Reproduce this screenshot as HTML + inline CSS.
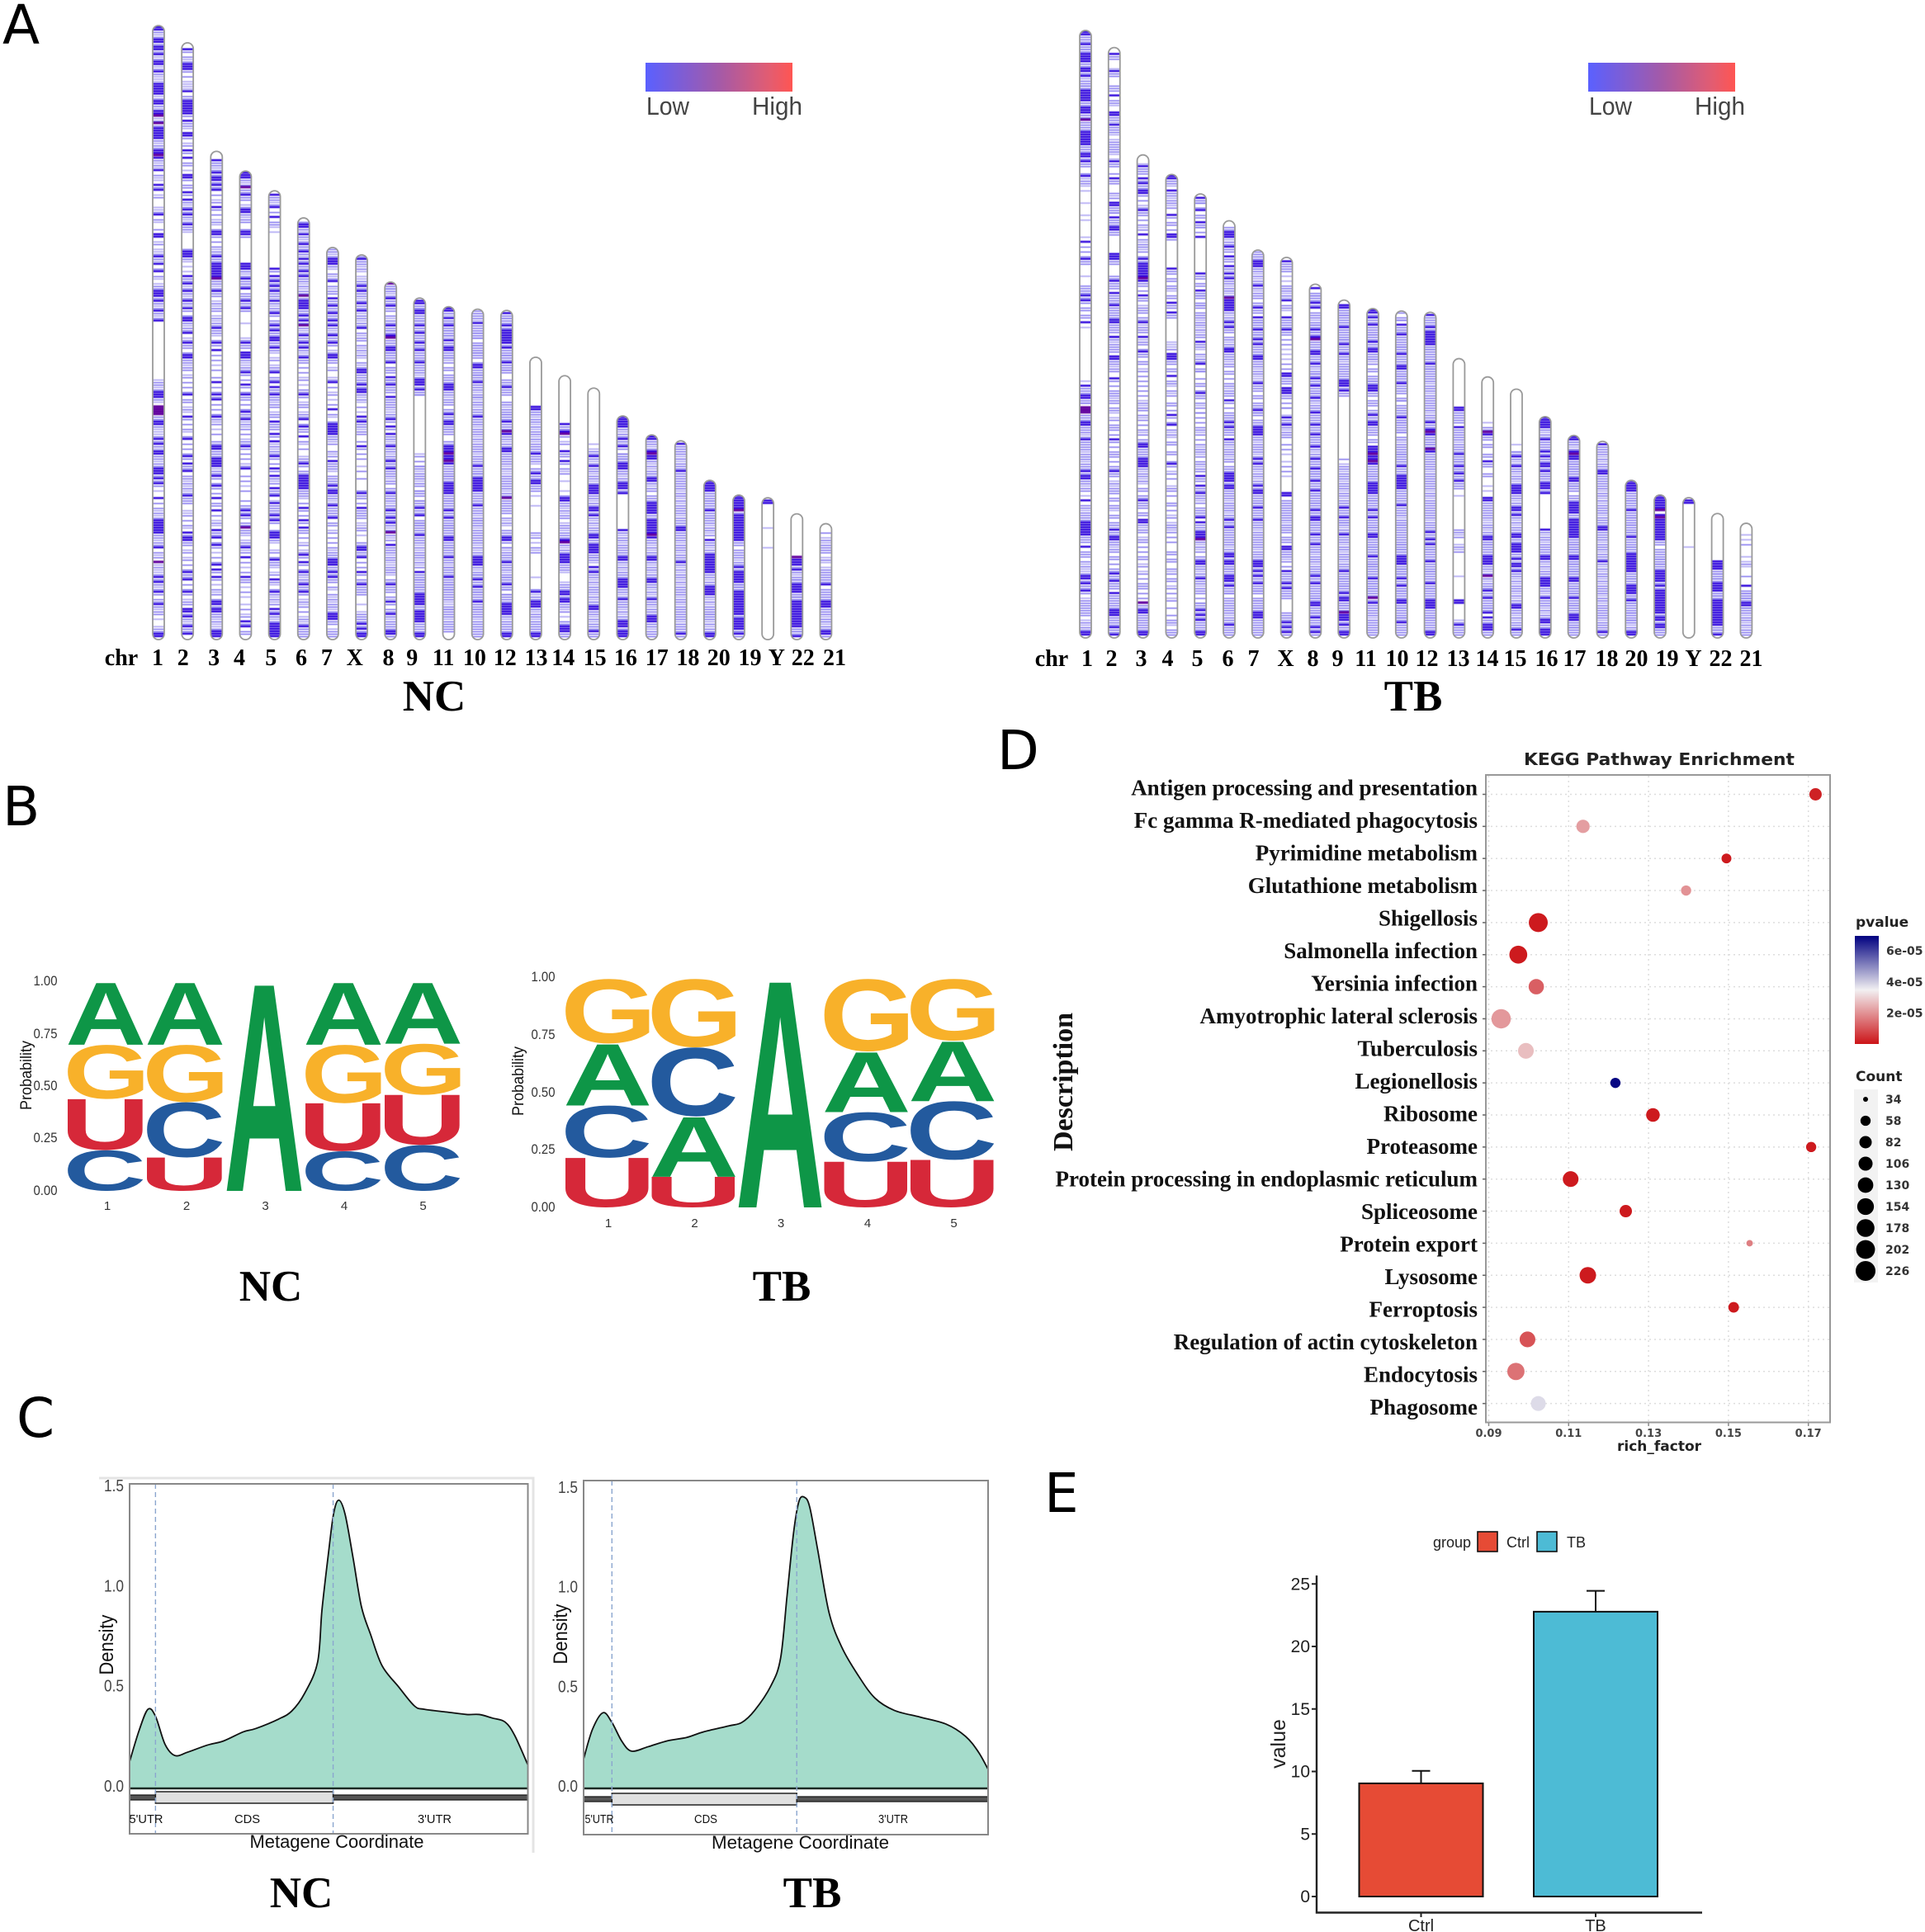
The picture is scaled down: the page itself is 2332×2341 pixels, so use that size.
<!DOCTYPE html>
<html>
<head>
<meta charset="utf-8">
<title>Figure panels A-E</title>
<style>
html,body{margin:0;padding:0;background:#fff;width:2332px;height:2341px;overflow:hidden}
svg{display:block}
text{font-family:"Liberation Sans",sans-serif}
.serif{font-family:"Liberation Serif",serif;font-weight:bold}
.dj{font-family:"DejaVu Sans",sans-serif;font-weight:bold}
.letter{font-family:"DejaVu Sans","Liberation Sans",sans-serif;font-size:66px;fill:#000}
</style>
</head>
<body>
<svg id="fig" xmlns="http://www.w3.org/2000/svg" width="2332" height="2341" viewBox="0 0 2332 2341">
<defs>
<linearGradient id="lowHigh" x1="0" x2="1" y1="0" y2="0">
<stop offset="0" stop-color="#5a60ff"/><stop offset="0.5" stop-color="#a45aa8"/><stop offset="0.85" stop-color="#e45c70"/><stop offset="1" stop-color="#ff5552"/>
</linearGradient>
<linearGradient id="pBar" x1="0" x2="0" y1="1" y2="0">
<stop offset="0" stop-color="#cc1418"/><stop offset="0.5" stop-color="#f2f0f2"/><stop offset="1" stop-color="#000080"/>
</linearGradient>
<filter id="soft" x="-5%" y="-1%" width="110%" height="102%"><feGaussianBlur stdDeviation="0.45"/></filter>
</defs>
<rect width="2332" height="2341" fill="#fff"/>

<text class="letter" x="3" y="53">A</text>
<text class="letter" x="3" y="1000">B</text>
<text class="letter" x="20" y="1741">C</text>
<text class="letter" x="1208" y="932">D</text>
<text class="letter" x="1265" y="1832">E</text>

<g id="ideoNC"></g>
<g id="ideoTB"></g>

<g>
<rect x="782" y="76" width="178" height="35" fill="url(#lowHigh)"/>
<text x="783" y="139" font-size="31" textLength="52" lengthAdjust="spacingAndGlyphs" fill="#444">Low</text>
<text x="911" y="139" font-size="31" textLength="61" lengthAdjust="spacingAndGlyphs" fill="#444">High</text>
</g>
<g>
<rect x="1924" y="76" width="178" height="35" fill="url(#lowHigh)"/>
<text x="1925" y="139" font-size="31" textLength="52" lengthAdjust="spacingAndGlyphs" fill="#444">Low</text>
<text x="2053" y="139" font-size="31" textLength="61" lengthAdjust="spacingAndGlyphs" fill="#444">High</text>
</g>
<text class="serif" x="526" y="861" font-size="53" text-anchor="middle">NC</text>
<text class="serif" x="1712" y="861" font-size="53" text-anchor="middle">TB</text>

<g id="logoNC"></g>
<g id="logoTB"></g>
<text class="serif" x="328" y="1576" font-size="53" text-anchor="middle">NC</text>
<text class="serif" x="947" y="1576" font-size="53" text-anchor="middle">TB</text>

<path d="M120 1791H646V2245" fill="none" stroke="#e4e4e4" stroke-width="3"/>
<g id="metaNC"></g>
<g id="metaTB"></g>
<text class="serif" x="365" y="2311" font-size="53" text-anchor="middle">NC</text>
<text class="serif" x="984" y="2311" font-size="53" text-anchor="middle">TB</text>

<g id="kegg"></g>
<g id="bars"></g>
</svg>

<script>
const SVGNS = 'http://www.w3.org/2000/svg';

/* ---------- Panel A data: band positions are Mb from the chromosome's lower end ---------- */
const chrNames = ['1','2','3','4','5','6','7','X','8','9','11','10','12','13','14','15','16','17','18','20','19','Y','22','21'];
const chrLabels = ['1','2','3','4','5','6','7','X','8','9','11','10','12','13','14','15','16','17','18','20','19','Y','22','21'];
const chrLengths = [249,242,198,190,182,171,159,156,145,138.5,135,134,133.5,114.5,107,102,90.7,83,80.6,64.6,58.6,57.5,51,47];

const ncStrong = [
[248,247,243,242,240,239,237,234,233,230,225,224,223,222,221,218,217,214,213,207,206,205,204,203,198,197,195,190,184,182,172,164,163,155,152,149,141,140,139,137,133,129,100,99,98,88,87,81,79,76,75,69,68,67,65,63,57,48,47,46,45,44,43,37,25,23,19,14,2,1],
[239,233,232,231,222,218,217,216,215,214,213,210,205,204,198,195,188,187,181,178,174,172,168,157,156,155,147,144,141,137,134,130,129,124,120,115,114,99,90,81,74,71,68,58,43,41,40,27,24,19,12,11,9,5,2],
[194,189,187,186,184,182,175,165,164,155,152,151,150,149,148,147,146,141,126,120,117,104,99,97,90,78,77,73,72,71,70,66,62,57,52,44,41,38,30,28,25,15,14,12,11,3,2,1],
[189,188,187,180,174,173,165,164,152,151,150,146,142,137,134,120,116,115,114,108,103,99,92,89,78,69,52,50,37,33,25,7,5],
[180,175,171,150,147,145,143,141,137,132,127,121,125,122,118,108,104,102,99,88,83,80,74,69,66,61,58,55,50,48,43,42,41,32,24,19,12,10,6,5,4,3,2,1],
[168,167,164,160,157,154,152,149,147,137,136,135,134,131,129,123,120,118,114,99,89,86,82,71,66,65,64,63,62,61,53,48,45,34,31,27,22,19,5],
[160,159,154,153,152,145,138,135,132,129,127,123,120,123,115,114,104,93,87,86,85,84,83,72,62,60,59,54,49,32,31,30,27,25,10,9,8],
[154,143,141,136,133,126,109,108,103,101,100,90,88,78,59,53,37,36,33,27,22,6,4,2,1],
[144,138,135,127,123,122,118,117,112,106,103,98,89,86,83,78,72,69,59,52,49,47,38,22,15,10,3,2],
[137,136,133,132,127,124,120,117,112,105,104,103,101,53,50,42,27,18,17,16,15,14,11,10,9,8,7,2,1],
[135,134,133,130,127,121,118,117,103,102,101,91,88,87,78,77,76,75,74,73,72,71,63,62,61,60,59,52,49,41,40,33,25],
[128,111,110,104,90,70,65,64,63,62,61,60,54,33,32,31,30,24,21,15],
[132,127,121,120,125,124,123,122,118,112,102,88,84,83,77,76,41,40,31,22,14,13,12,11,10,2,1],
[94,93,75,67,64,63,19,15,14,13,2,1],
[87,84,83,76,72,57,56,40,34,33,32,31,19,18,16,15,5,4,3],
[74,70,62,61,60,59,53,52,50,42,41,38,37,36,35,29,27,13,12,3],
[90,89,88,87,86,81,78,71,70,69,63,62,61,59,44,33,32,24,23,22,21,16,7,6,5,3,2,1],
[83,82,81,76,75,74,73,65,64,55,54,53,52,51,48,47,46,45,44,43,42,41,33,32,24,23,16,9,8,7],
[79,68,45,44,31,2],
[64,63,62,61,60,52,40,34,33,32,31,30,29,28,27,21,20,19,18,2,1],
[59,58,57,56,55,54,53,52,50,49,48,47,46,45,44,43,42,41,40,29,27,26,25,24,23,19,18,17,16,15,14,13,12,11,10,8,7,6,5,4,2],
[56,55],
[32,31,30,28,22,21,20,19,15,14,13,12,11,10,9,8,7,6,5,1],
[22,15,14,13,3,2]
];
const ncMid = [
[246,244,241,238,235,231,229,219,216,210,208,202,200,199,194,192,188,183,179,173,170,166,160,156,154,150,147,143,142,138,136,134,132,130,104,103,101,97,90,89,86,82,80,78,74,73,71,70,66,64,62,55,53,51,49,42,41,39,38,35,33,29,26,24,22,20,18,16,15,13,11,10,4,3],
[238,236,234,230,228,220,219,212,209,208,203,200,197,193,192,186,184,183,180,177,175,173,171,169,167,166,158,154,146,145,142,140,138,136,133,131,128,126,125,121,119,118,116,113,112,110,109,106,104,102,100,97,96,93,89,87,85,82,79,77,75,73,70,69,66,65,63,61,59,57,56,55,50,48,46,42,39,38,35,32,30,28,26,25,22,20,18,15,14,10,8,6,4,3],
[193,192,190,188,185,183,180,177,174,172,169,166,163,161,159,157,156,154,153,145,144,142,140,139,136,134,133,130,128,127,125,124,121,119,115,113,109,106,102,100,98,95,93,91,89,87,83,80,79,76,75,74,68,67,65,63,61,59,55,54,50,47,43,42,39,37,33,31,27,24,20,18,16,13,10,9,7,4],
[186,184,182,181,179,178,175,172,170,169,166,163,149,147,145,144,143,140,139,138,136,135,133,121,119,118,113,110,109,107,105,102,100,98,97,95,93,91,90,87,85,83,80,79,77,75,73,70,66,64,60,56,54,53,51,49,47,46,44,43,39,38,35,31,27,24,23,19,12,9,6,3,2],
[179,178,176,173,169,168,149,146,144,142,140,139,136,134,133,131,129,128,126,124,123,120,119,117,113,110,109,106,105,101,100,98,97,95,94,91,90,87,86,85,82,78,76,75,73,71,68,65,63,60,59,54,53,52,51,49,47,44,40,35,33,31,30,26,23,20,18,16,14,11,9,7],
[169,166,163,161,159,158,156,153,151,150,148,146,145,143,141,140,138,133,132,130,128,126,124,122,121,119,117,115,113,112,110,108,105,101,100,98,95,94,91,90,87,85,84,80,77,73,72,70,68,67,60,59,58,55,52,50,47,44,43,41,38,35,33,30,28,26,24,23,21,20,18,15,13,11,8,6,4,3,2,1],
[158,157,155,151,148,146,143,141,140,137,136,134,133,131,130,128,126,124,122,121,119,116,113,112,109,105,102,99,95,91,88,82,81,79,76,74,71,70,69,66,65,64,63,61,58,57,55,53,52,51,50,47,46,43,41,39,37,35,34,33,29,28,26,24,23,21,18,16,14,13,11,7,6,3,2,1],
[155,153,152,150,145,144,142,140,139,137,135,134,131,130,128,127,124,122,121,119,117,115,112,110,107,106,105,104,102,99,97,94,89,87,86,84,83,80,77,75,73,68,65,60,58,57,55,52,51,50,49,45,44,39,38,35,34,31,29,26,24,23,21,20,19,18,10,9,8,7,5,3],
[143,142,141,139,137,136,134,133,131,129,128,126,125,124,121,120,119,116,115,114,113,110,109,108,105,104,102,101,100,97,96,95,94,91,90,88,85,82,81,79,77,76,74,73,71,70,68,67,66,64,63,61,60,58,57,56,54,53,51,50,48,46,44,42,40,37,36,35,33,32,29,28,27,24,23,21,20,19,17,14,12,11,9,7,6,5,4,1],
[135,134,131,130,129,128,126,125,123,122,121,119,118,116,115,114,113,111,110,109,108,106,102,100,99,74,72,70,69,67,66,65,63,62,60,59,58,56,55,54,52,51,48,47,46,45,44,43,41,40,39,37,35,34,33,31,29,26,25,24,23,22,21,20,19,13,12,6,5,4,3],
[132,129,128,126,125,124,123,120,119,116,115,114,112,110,109,107,106,105,104,100,99,97,96,95,93,92,90,89,86,85,84,83,80,79,70,69,68,67,66,65,64,58,57,56,55,54,53,51,50,48,47,46,45,44,43,42,39,38,37,36,35,34,32,31,29,28,27,26,24,23,22,21,20,19,18,17,16,13,12,11,10,9,7,6,5,4,3],
[133,132,131,130,127,126,125,124,123,122,120,119,118,117,116,115,114,112,109,108,107,106,105,103,102,101,99,98,96,95,93,92,91,89,88,87,85,84,83,81,79,78,77,76,74,73,72,71,69,68,67,66,59,58,57,56,55,53,52,51,49,48,47,46,44,43,42,41,40,39,37,35,34,29,27,26,25,23,22,20,19,18,17,16,14,13,12,11,10,9,7,6,5,4,3,2,1],
[131,130,129,128,126,125,120,119,117,116,115,114,113,111,110,109,108,105,104,103,101,100,99,96,95,93,92,91,90,89,87,86,85,82,81,79,78,75,74,73,72,71,69,66,65,64,63,62,61,59,58,56,55,54,53,52,51,49,47,44,43,42,39,37,35,34,33,32,30,29,28,26,25,24,23,21,20,18,17,16,15,9,7,6,5,4,3],
[92,91,89,88,86,84,83,81,79,78,77,76,74,73,72,69,68,66,65,62,61,60,43,41,37,35,20,17,16,12,10,9,7,6,5,4,3],
[86,85,82,79,75,74,71,69,67,58,55,54,52,50,49,46,45,43,42,41,39,38,36,35,30,29,28,22,21,20,17,14,13,11,7,6,2,1],
[76,75,73,71,69,68,66,65,63,58,57,55,54,51,49,47,45,44,43,40,39,34,33,32,28,26,25,23,21,20,19,17,15,14,11,10,8,6,5,4,2,1],
[85,83,82,80,79,77,75,74,73,72,68,67,65,64,60,43,41,40,38,37,36,35,34,31,29,27,26,25,20,19,17,15,14,13,11,9,8,4],
[80,79,77,72,70,68,67,66,63,61,60,58,57,56,50,49,40,39,37,35,34,31,29,28,26,25,22,21,19,17,15,14,12,11,10,6,5,3,2,1],
[78,77,76,75,73,71,70,69,67,66,65,64,63,62,61,59,58,56,54,53,52,51,49,48,47,46,43,42,41,40,38,37,36,34,33,32,30,28,26,25,23,21,20,19,18,16,15,13,12,11,10,9,8,6,5,4,3,1],
[59,58,57,56,55,54,53,51,50,49,48,47,45,44,42,39,38,36,35,26,25,23,22,17,15,13,12,11,10,9,8,6,4,3],
[51,39,38,36,35,34,33,31,30,28,22,21,20,9,3,1],
[],
[29,27,25,24,23,18,17,16,4,3,2],
[43,40,38,37,36,35,32,28,27,26,25,24,23,20,19,18,17,16,12,11,10,8,7,5,4,1]
];
const ncLight = [
[245,236,232,228,227,226,220,215,211,201,193,191,187,186,180,175,174,169,161,158,157,153,146,144,135,131,105,102,96,85,84,83,77,72,60,52,50,40,34,31,30,28,27,21,12,8,5],
[235,226,225,224,223,207,201,198,190,176,170,165,153,151,149,143,139,135,127,122,111,107,94,92,84,64,62,60,52,51,45,36,33,16,7],
[191,178,170,168,158,155,143,137,135,131,129,123,111,88,85,69,48,46,35,22,19,8,6,5],
[185,176,171,148,128,122,112,111,88,86,81,71,62,42,40,36,29,21,17,14,10],
[177,167,165,138,135,122,116,114,111,96,92,79,77,64,56,39,36,29,27,22,17,15,8],
[165,162,155,144,142,139,127,125,116,106,103,96,92,79,74,57,39,36,25,16,14,9,7],
[156,150,147,142,125,117,110,106,100,97,90,80,75,68,56,44,36,20,17,15,12,4],
[151,149,147,146,138,132,129,123,118,116,114,111,98,96,92,85,70,47,46,42,14,11],
[142,140,130,125,116,110,105,93,92,80,75,65,55,45,41,34,31,30,26,16,8],
[134,129,118,113,107,99,75,70,68,64,60,56,47,46,38,36,32,30,24,21],
[131,128,123,125,122,114,113,98,85,66,56,46,45,37,30,29,22,20,15,14,12,8],
[129,124,122,119,116,107,100,97,98,94,86,82,80,75,67,50,48,45,38,36,28,26,19,12,8],
[130,124,115,109,94,91,80,70,68,67,60,57,48,46,37,36,27,25,20,18,8],
[90,87,85,82,80,71,58,54,42,39,36,25,18,11,8],
[80,68,64,60,53,51,47,44,37,27,23,12,9],
[79,77,72,67,64,56,48,46,33,31,24,22,18,16,9,7],
[84,75,73,66,42,39,30,28,18,12,10],
[78,71,69,62,38,36,30,27,20,18,13,4],
[74,72,60,57,55,50,39,35,29,27,24,22,17,14,7],
[56,49,46,43,37,24,16,14,10,7,5],
[32,30,22,21,9,3],
[45,37],
[26,24,17,3],
[41,39,33,31,29,9,6]
];
const ncHot = [[212,209,196,94,93,92,91,31],[],[146],[183,45],[],[139,127],[],[],[144,122,43],[],[75,72],[],[84,57],[],[83,39],[],[],[75,42],[],[],[52],[],[33],[]];

const tbStrong = [
[249,248,247,243,239,238,237,236,233,232,230,224,223,222,221,220,217,216,215,207,206,205,204,203,202,198,197,195,189,162,155,140,138,129,103,99,98,88,87,81,68,66,65,56,47,46,45,44,43,42,37,25,24,22,19,2,1],
[239,232,222,215,214,210,195,188,178,177,172,168,167,157,156,155,146,141,136,130,129,123,123,115,114,106,81,68,44,41,40,26,23,18,11,10,9,4,1],
[193,188,186,183,182,175,165,155,153,152,151,150,149,148,147,146,140,129,123,117,79,78,73,72,71,70,56,48,47,11,10,2,1],
[190,189,188,183,173,165,164,151,137,133,116,115,114,107,91,87,71],
[180,175,170,164,149,142,121,112,100,66,62,59,49,47,43,42,41,31,30,24,11,9,7,2,1],
[166,165,164,160,156,152,149,147,138,137,136,135,134,129,127,118,117,118,97,88,86,81,67,66,65,64,62,61,48,45,34,33,31,30,25,24,23,21,5],
[160,159,154,153,152,144,135,131,126,122,120,115,114,104,93,86,85,84,83,73,71,62,60,59,53,48,31,30,29,27,25,22,10,9,8],
[154,138,131,126,108,107,102,101,100,90,87,59,58,37,36,27,22,20,6,4,2],
[143,137,135,126,123,122,117,116,112,106,103,98,92,87,83,78,73,69,64,60,52,49,48,42,38,25,22,14,13,8,4,2],
[136,135,127,120,116,105,104,103,101,53,49,42,27,18,16,15,9,8,7,5,2,1],
[135,134,133,131,128,121,118,117,103,102,101,91,88,87,78,77,76,75,74,73,72,71,63,62,61,60,59,52,49,42,41,33,24,14],
[128,124,116,111,110,104,90,70,66,65,64,63,62,61,54,33,32,31,30,24,21,15,14,6],
[132,127,121,125,124,123,122,120,112,88,85,84,83,77,76,43,40,38,31,22,15,14,13,12,2,1],
[94,93,86,75,70,67,64,15,14,5],
[84,83,72,57,56,41,40,33,32,31,30,19,16,10,8,5,4,3],
[74,70,62,61,60,59,53,52,50,42,41,38,37,36,35,32,30,29,27,13,12,3],
[90,89,88,87,86,81,76,74,71,70,68,63,62,61,59,44,33,32,24,23,22,21,16,7,6,3,2,1],
[83,82,81,76,75,74,73,65,64,55,54,53,52,51,48,47,46,45,44,43,42,41,33,32,24,23,16,9,8,7],
[79,68,67,45,44,31,2],
[64,63,62,61,60,52,41,34,33,32,31,30,29,28,27,21,20,19,18,15,2,1],
[59,58,57,56,55,54,53,52,50,49,48,47,46,45,44,43,42,41,40,27,26,25,24,23,21,19,18,17,16,15,14,13,12,11,10,8,7,5,4],
[56,55],
[31,30,29,28,22,21,20,19,15,14,13,12,11,10,9,8,7,6,5,1],
[21,14,13]
];
const tbMid = [
[246,245,244,242,241,240,235,234,231,228,227,226,225,219,218,214,213,212,211,210,209,208,201,200,199,196,194,193,190,187,186,160,158,156,154,153,144,143,142,141,139,137,135,134,132,131,102,101,100,97,96,91,90,89,86,85,84,82,80,79,78,77,75,74,73,71,70,69,67,64,63,61,60,54,53,51,50,49,48,41,40,39,35,34,33,31,29,26,23,21,20,18,15,14,13,12,11,10,9,6,4,3],
[238,237,231,230,226,225,224,220,219,213,212,209,208,207,203,202,201,200,199,194,193,190,187,186,182,180,176,175,174,171,170,169,166,165,154,153,148,147,145,144,143,140,139,138,137,135,134,133,132,131,128,127,126,125,122,120,119,118,117,113,112,110,109,105,103,101,100,99,97,96,94,93,89,87,86,85,83,80,78,76,75,74,72,70,69,67,66,63,61,60,59,57,56,54,53,50,49,47,46,43,42,39,38,36,35,33,32,30,28,27,25,24,22,21,20,17,16,15,14,13,12,8,7,6,5,3,2],
[192,191,190,187,185,184,181,179,176,174,173,171,169,167,163,161,160,158,156,154,145,144,142,139,138,135,134,133,131,130,127,126,125,121,120,118,116,115,113,112,109,107,105,103,101,99,96,94,93,91,89,87,85,83,81,80,77,76,75,74,69,67,66,64,61,60,58,57,55,54,53,51,50,46,44,43,40,39,37,35,33,32,29,26,24,22,21,20,18,16,14,13,12,9,8,7,6,5,4,3],
[187,186,182,181,179,178,176,172,170,169,167,163,150,149,147,146,144,143,140,139,136,135,132,131,118,113,112,110,109,105,104,101,99,96,95,93,90,88,85,83,80,79,76,75,72,70,67,65,61,60,58,55,54,52,49,46,45,43,41,39,35,34,32,31,28,26,24,23,20,18,15,12,9,7,6,3,2,1],
[179,178,176,173,172,169,168,166,148,147,145,144,141,140,139,137,136,135,133,132,131,129,128,126,124,123,120,119,116,114,113,110,109,106,104,103,101,99,98,96,94,92,90,88,86,85,83,81,79,77,76,74,72,71,69,68,65,64,61,60,58,57,55,53,52,51,50,46,45,44,40,39,37,35,33,32,29,28,26,25,23,22,20,19,18,16,14,13,12,10,8,6,5,4,3],
[168,167,162,161,159,158,155,154,151,148,146,145,143,142,140,139,133,131,130,128,126,125,123,122,120,119,116,115,114,112,111,109,108,106,104,103,101,100,99,96,94,92,91,90,89,87,85,84,83,80,79,77,76,75,73,72,70,69,68,63,60,59,58,57,55,54,53,52,50,49,47,46,44,43,42,41,40,39,38,36,35,32,29,28,27,26,22,20,19,18,16,15,14,13,12,11,10,8,7,6,4,3,2,1],
[158,157,156,155,151,150,148,146,145,143,141,140,139,137,136,134,133,130,129,128,127,125,124,123,121,119,118,117,116,113,112,111,109,108,105,103,102,101,99,98,96,95,94,92,91,89,88,87,82,81,79,78,77,76,74,72,70,69,67,66,64,63,61,58,57,56,55,54,52,51,50,49,47,46,45,43,42,41,40,39,38,37,35,34,33,32,28,26,24,23,21,20,19,18,16,15,14,13,12,11,7,6,5,4,3,2,1],
[153,152,151,150,144,143,142,140,136,135,130,129,128,127,125,124,122,120,112,110,106,105,104,99,98,96,94,89,88,86,84,83,82,79,77,70,68,56,55,54,53,52,51,50,49,48,46,45,44,43,41,40,39,35,34,33,31,29,26,25,24,23,21,19,18,17,16,10,9,8,7,5,3,1],
[141,140,139,138,136,133,132,131,129,128,127,125,124,121,120,119,118,115,114,113,111,109,108,107,105,104,102,101,100,99,97,95,94,93,91,90,89,88,86,85,84,82,81,80,79,77,75,74,72,71,70,68,67,66,65,63,62,61,59,58,57,56,55,54,53,51,50,47,46,45,44,43,41,40,39,37,36,35,33,32,31,29,28,27,26,24,23,21,20,19,18,17,16,15,12,11,10,9,7,6,5,3,1],
[134,133,132,131,130,129,128,126,125,124,123,122,121,119,118,117,115,114,112,111,110,109,108,107,106,102,100,99,73,70,69,67,66,65,63,62,61,59,58,56,55,54,52,51,50,48,47,46,44,43,41,40,39,37,36,34,33,32,30,29,28,26,25,24,23,22,21,20,19,17,14,13,12,11,10,6,4,3],
[132,130,129,127,126,125,124,123,122,120,119,116,115,114,112,110,109,107,106,105,104,100,99,97,96,95,93,92,90,89,86,85,84,83,81,80,70,69,68,67,66,65,64,58,57,56,55,54,53,51,50,48,47,46,45,44,43,40,39,38,37,36,35,34,32,31,30,29,28,27,26,25,23,22,21,20,19,18,17,16,15,13,12,11,10,9,7,6,5,4,3,2,1],
[133,131,130,127,126,125,123,122,121,120,119,118,117,115,114,113,112,109,108,107,106,105,103,102,101,100,98,97,95,94,93,92,91,89,88,87,86,85,84,82,81,79,78,77,76,75,74,73,72,71,69,68,67,60,59,58,57,56,55,53,52,51,50,48,47,46,45,44,43,42,41,40,39,38,37,36,35,34,29,28,27,26,25,23,22,20,19,18,17,16,13,12,11,10,9,8,7,5,4,3,2,1],
[131,130,129,128,126,119,118,117,116,115,114,113,111,110,109,108,107,106,105,103,102,101,99,98,97,96,95,94,93,91,90,89,87,86,82,81,80,79,78,75,74,73,72,71,70,69,67,66,65,64,63,62,61,59,58,56,55,54,53,52,51,50,49,47,46,45,44,42,41,39,37,36,35,34,33,32,30,29,28,27,26,25,24,23,21,20,19,18,17,16,11,10,9,8,7,6,5,4,3],
[92,91,90,89,88,85,84,83,82,81,79,78,77,76,74,73,72,71,69,68,66,65,63,62,61,44,43,41,37,35,6,4,3,2,1],
[86,85,82,81,79,78,75,74,71,70,67,66,55,54,53,52,51,50,49,46,45,43,42,39,38,37,36,35,34,29,28,26,25,24,22,21,20,18,17,15,14,13,12,11,7,6,2,1],
[76,75,73,71,69,68,66,65,63,58,57,55,54,51,49,47,45,44,43,40,39,34,33,28,26,25,23,21,20,19,17,15,14,11,10,8,6,5,4,2,1],
[85,83,82,80,79,78,77,75,73,72,69,67,66,65,64,60,43,41,40,38,37,36,35,34,31,29,27,26,25,20,19,17,15,14,13,11,9,8,5,4],
[80,79,77,72,71,70,69,68,67,66,63,62,61,60,58,57,56,50,49,40,39,38,37,36,35,34,31,30,29,28,27,26,25,22,21,20,19,18,17,15,14,13,12,11,10,6,5,4,3,2,1],
[78,77,76,75,73,71,70,69,66,65,64,63,62,61,59,58,56,54,53,52,51,49,48,47,46,43,42,41,40,38,37,36,34,33,32,30,28,26,25,23,21,20,19,18,16,15,13,12,11,10,9,8,6,5,4,3,1],
[59,58,57,56,55,54,53,51,50,49,48,47,46,45,44,43,42,40,39,38,37,36,35,26,25,24,23,22,17,16,14,13,12,11,10,9,8,7,6,4,3],
[39,38,36,35,34,33,32,31,30,29,28,22,20,9,6,3,2,1],
[],
[29,27,26,25,24,23,18,17,16,4,3,2],
[38,30,25,19,18,17,16,15,12,11,10,8,7,5,3,2,1]
];
const tbLight = [
[241,229,226,204,188,185,183,178,173,171,164,148,127,105,96,83,76,72,62,58,52,30,28,27,16,7,5],
[233,218,211,206,204,198,196,181,174,130,121,111,106,98,92,90,64,62,52,45,37],
[194,182,177,168,162,159,136,128,122,110,97,95,90,84,68,65,63,45,41,30,27],
[185,180,177,142,120,121,119,100,103,84,82,68,62,50,47,44,27,21,16,5],
[178,168,140,136,130,127,125,118,115,109,95,92,84,78,75,70,56,38,36,27,21,14],
[163,156,150,144,141,132,121,113,102,97,85,78,74,56,51,37,28,18,9],
[149,147,142,129,124,110,107,106,92,80,75,68,65,55,44,36,19,15,12],
[148,146,141,139,134,118,116,114,94,91,85,75,72,66,47,32,5],
[140,130,128,125,110,108,100,96,82,76,67,58,55,46,34,30,26,16,10],
[132,122,113,71,68,64,60,57,47,45,38,35,31,24,21,13],
[131,124,114,113,105,66,56,45,37,30,29,22,20,8],
[130,125,119,107,97,88,84,80,75,49,46,38,36,28,26,19,12,8],
[127,118,110,104,100,92,81,79,68,60,57,48,36,27,20,8],
[80,75,72,68,58,42,38,36,25,7,5],
[88,62,60,48,47,44,38,27,23,20,12],
[79,76,72,67,64,56,48,46,31,24,22,18,16,9,7],
[84,73,66,42,39,30,28,18,12,10],
[78,71,69,62,38,36,30,27,20,18,13,4],
[74,72,60,57,55,50,39,35,29,27,24,22,17,14,7],
[56,49,46,43,37,24,16,14,10,7,5],
[32,30,22,9,3],
[37],
[26,24,17,3],
[42,40,33,31,29,18,16,12,9,6,4]
];
const tbHot = [[212,94,93,92],[],[147,14],[],[40],[139],[],[],[122],[10],[75,72,16],[],[84,77],[],[84,25],[],[],[75],[],[],[52,49],[],[],[]];

/* ---------- Panel B data ---------- */
const logoPositions = ['1','2','3','4','5'];
const logoTicks = ['0.00','0.25','0.50','0.75','1.00'];
const logoNCLetters = [['C','U','G','A'],['U','C','G','A'],['A'],['C','U','G','A'],['C','U','G','A']];
const logoNCProbs = [[0.195,0.245,0.26,0.30],[0.16,0.265,0.275,0.30],[1],[0.19,0.23,0.28,0.30],[0.22,0.24,0.245,0.295]];
const logoTBLetters = [['U','C','A','G'],['U','A','C','G'],['A'],['U','C','A','G'],['U','C','A','G']];
const logoTBProbs = [[0.217,0.229,0.271,0.283],[0.134,0.264,0.302,0.30],[1],[0.20,0.217,0.265,0.318],[0.208,0.257,0.264,0.271]];

/* ---------- Panel C data ---------- */
const metaTicks = [0,0.5,1.0,1.5];
const metaNCx = [0,.024,.046,.065,.089,.114,.146,.195,.236,.285,.317,.374,.407,.439,.472,.483,.499,.512,.525,.541,.561,.582,.605,.634,.675,.715,.74,.797,.846,.878,.911,.943,.967,1];
const metaNCy = [.134,.29,.395,.36,.22,.164,.181,.216,.237,.282,.299,.346,.386,.473,.63,.891,1.169,1.369,1.439,1.369,1.152,.908,.769,.612,.508,.412,.395,.381,.369,.369,.351,.331,.264,.117];
const metaTBx = [0,.022,.048,.07,.095,.119,.159,.207,.255,.295,.359,.391,.423,.463,.487,.503,.519,.532,.545,.559,.579,.607,.639,.679,.72,.768,.832,.896,.944,.976,1];
const metaTBy = [.148,.297,.38,.331,.235,.187,.209,.239,.256,.283,.314,.331,.392,.515,.654,.968,1.282,1.439,1.463,1.413,1.195,.881,.706,.567,.454,.392,.358,.323,.262,.183,.096];
const geneBoundsNC = [0.065,0.511];
const geneBoundsTB = [0.07,0.527];

/* ---------- Panel D data ---------- */
const pathways = ['Antigen processing and presentation','Fc gamma R-mediated phagocytosis','Pyrimidine metabolism','Glutathione metabolism','Shigellosis','Salmonella infection','Yersinia infection','Amyotrophic lateral sclerosis','Tuberculosis','Legionellosis','Ribosome','Proteasome','Protein processing in endoplasmic reticulum','Spliceosome','Protein export','Lysosome','Ferroptosis','Regulation of actin cytoskeleton','Endocytosis','Phagosome'];
const richFactor = [.1718,.1136,.1495,.1394,.1024,.0974,.1019,.0931,.0993,.1217,.1311,.1707,.1105,.1243,.1553,.1148,.1513,.0997,.0968,.1024];
const counts = [82,95,55,58,205,180,128,215,135,58,100,58,135,82,36,150,62,135,165,120];
const pvalues = [2e-6,2.2e-5,1e-6,2e-5,1e-6,1e-6,1.2e-5,2.1e-5,2.7e-5,6.9e-5,1e-6,1e-6,1e-6,1e-6,1.7e-5,1e-6,1e-6,1e-5,1.5e-5,3.8e-5];
const richTicks = [.09,.11,.13,.15,.17];
const pTicks = [2e-5,4e-5,6e-5];
const pTickLabels = ['2e-05','4e-05','6e-05'];
const countKeys = [34,58,82,106,130,154,178,202,226];

/* ---------- Panel E data ---------- */
const barGroups = ['Ctrl','TB'];
const barValues = [9.05,22.78];
const barErrors = [1.0,1.67];
const barTicks = [0,5,10,15,20,25];

/* ---------- helpers ---------- */
function mk(parent, tag, attrs, txt){
  const el = document.createElementNS(SVGNS, tag);
  for (const k in attrs) el.setAttribute(k, attrs[k]);
  if (txt !== undefined) el.textContent = txt;
  parent.appendChild(el);
  return el;
}

/* ---------- Panel A ---------- */
function drawIdeogram(rootId, prefix, x0, step, bottom, scale, strong, mid, light, hot, labelX, labelY, chrX){
  const root = document.getElementById(rootId);
  const xOf = i => x0 + step * i;
  const yOf = d => bottom - d * scale;
  const W = 14;
  chrNames.forEach((name, i) => {
    const g = mk(root, 'g', {});
    
    
    const top = yOf(chrLengths[i]);
    const clip = mk(g, 'clipPath', {id: prefix + 'clip' + i});
    mk(clip, 'rect', {x: xOf(i) - W/2, y: top, width: W, height: bottom - top, rx: 7});
    const clipped = mk(g, 'g', {'clip-path': 'url(#' + prefix + 'clip' + i + ')'});
    const inner = mk(clipped, 'g', {filter: 'url(#soft)'});
    light[i].forEach(d => {
      const b = mk(inner, 'rect', {x: xOf(i) - W/2, y: yOf(d + 0.5), width: W, height: 0.5 * scale, fill: '#a89ff3'});
      
      
    });
    mid[i].forEach(d => {
      const b = mk(inner, 'rect', {x: xOf(i) - W/2, y: yOf(d + 0.38), width: W, height: 0.38 * scale, fill: '#5a48ea'});
      
      
    });
    strong[i].forEach(d => {
      const b = mk(inner, 'rect', {x: xOf(i) - W/2, y: yOf(d + 0.8), width: W, height: 0.8 * scale, fill: '#2a06dc'});
      
      
    });
    hot[i].forEach(d => {
      const b = mk(inner, 'rect', {x: xOf(i) - W/2, y: yOf(d + 1), width: W, height: scale, fill: '#62009e'});
      
      
    });
    const o = mk(g, 'rect', {x: xOf(i) - W/2, y: top, width: W, height: bottom - top, rx: 7, fill: 'none', stroke: '#9a9a9a', 'stroke-width': 1.8});
    
    
    const t = mk(root, 'text', {x: labelX[i], y: labelY, 'font-size': 28, 'text-anchor': 'middle', class: 'serif'}, chrLabels[i]);
    
    
  });
  const c = mk(root, 'text', {x: chrX, y: labelY, 'font-size': 28, 'text-anchor': 'middle', class: 'serif'}, 'chr');
  
  
}
const ncLabelLayout = [191,221.8,259.1,290,328.2,365,395.9,429.7,470.5,499.3,537.1,574.9,611.7,649.5,682.3,720.6,757.9,795.7,833.4,870.7,908.5,940.9,972.7,1011];
const tbLabelLayout = [1317,1346.5,1382.5,1414.5,1450.5,1487.5,1518.5,1557.5,1590.5,1620.5,1654.5,1692.5,1728.5,1766.5,1801.5,1835.5,1873.5,1907.5,1946.5,1982.5,2019.5,2051.5,2084.5,2121.5];
drawIdeogram('ideoNC','nc',192,35.15,775,2.988,ncStrong,ncMid,ncLight,ncHot,ncLabelLayout,806,147);
drawIdeogram('ideoTB','tb',1315,34.8,773,2.956,tbStrong,tbMid,tbLight,tbHot,tbLabelLayout,807,1274);

/* ---------- Panel B ---------- */
const logoColor = {A:'#0e9647',G:'#f8b12a',C:'#235a9e',U:'#d62839'};
const measureCtx = document.createElement('canvas').getContext('2d');
measureCtx.font = 'bold 100px "Liberation Sans"';
function drawLogo(rootId, letters, probs, left, colW, pitch, y0, y1, tickX, tickYs, posX, posY, probX, probY){
  const root = document.getElementById(rootId);
  const yOf = p => y0 - (y0 - y1) * p;
  letters.forEach((col, i) => {
    let cum = 0;
    col.forEach((ch, j) => {
      const bot = yOf(cum); cum += probs[i][j]; const top = yOf(cum);
      const m = measureCtx.measureText(ch);
      const L = m.actualBoundingBoxLeft, R = m.actualBoundingBoxRight, A = m.actualBoundingBoxAscent, D = m.actualBoundingBoxDescent;
      const sx = colW / (L + R), sy = (bot - top) / (A + D);
      const x = left + pitch * i + L * sx, y = bot - D * sy;
      const t = mk(root, 'text', {transform: 'translate(' + x + ' ' + y + ') scale(' + sx + ' ' + sy + ')', 'font-size': 100, 'font-weight': 'bold', fill: logoColor[ch]}, ch);
      
      
    });
    const n = mk(root, 'text', {x: posX[i], y: posY, 'font-size': 15, 'text-anchor': 'middle', fill: '#333'}, logoPositions[i]);
    
    
  });
  logoTicks.forEach((lab, i) => {
    const t = mk(root, 'text', {x: tickX, y: tickYs[i] + 6, 'font-size': 17, 'text-anchor': 'middle', textLength: 29, lengthAdjust: 'spacingAndGlyphs', fill: '#333'}, lab);
    
    
  });
  const p = mk(root, 'text', {transform: 'translate(' + probX + ' ' + probY + ') rotate(-90)', 'font-size': 19, 'text-anchor': 'middle', textLength: 84, lengthAdjust: 'spacingAndGlyphs', fill: '#111'}, 'Probability');
  
  
}
drawLogo('logoNC',logoNCLetters,logoNCProbs,82,92,96,1443,1190,55,[1442,1378,1315,1252,1188],[130,226,321.5,417,512.5],1466,38,1303);
drawLogo('logoTB',logoTBLetters,logoTBProbs,685,102,104.5,1463,1186,658,[1462,1392,1323,1253,1183],[737,841.5,946,1051,1155.5],1487,634,1310);

/* ---------- Panel C ---------- */
function smoothPath(pts){
  let d = 'M' + pts[0][0] + ' ' + pts[0][1];
  for (let i = 0; i < pts.length - 1; i++){
    const p0 = pts[Math.max(i-1,0)], p1 = pts[i], p2 = pts[i+1], p3 = pts[Math.min(i+2,pts.length-1)];
    const c1 = [p1[0] + (p2[0]-p0[0])/6, p1[1] + (p2[1]-p0[1])/6];
    const c2 = [p2[0] - (p3[0]-p1[0])/6, p2[1] - (p3[1]-p1[1])/6];
    d += 'C' + c1[0] + ' ' + c1[1] + ' ' + c2[0] + ' ' + c2[1] + ' ' + p2[0] + ' ' + p2[1];
  }
  return d;
}
function drawMeta(o){
  const root = document.getElementById(o.id);
  const xOf = v => o.left + (o.right - o.left) * v;
  const yOf = v => o.y0 - o.perUnit * v;
  const pts = o.xs.map((x, i) => [xOf(x), yOf(o.ys[i])]);
  const line = smoothPath(pts);
  const area = mk(root, 'path', {d: line + 'L' + o.right + ' ' + o.y0 + 'L' + o.left + ' ' + o.y0 + 'Z', fill: '#a5dccb'});
  
  
  const ln = mk(root, 'path', {d: line, fill: 'none', stroke: '#111', 'stroke-width': 1.8});
  
  
  const base = mk(root, 'line', {x1: o.left, x2: o.right, y1: o.y0, y2: o.y0, stroke: '#1a2a24', 'stroke-width': 2.5});
  
  
  const track = mk(root, 'rect', {x: o.left, y: o.trackY - 3, width: o.right - o.left, height: 6, fill: '#555', stroke: '#111', 'stroke-width': 1.2});
  
  
  const cds = mk(root, 'rect', {x: xOf(o.bounds[0]), y: o.trackY - 7, width: xOf(o.bounds[1]) - xOf(o.bounds[0]), height: 14, fill: '#e0e0e0', stroke: '#222', 'stroke-width': 1.5});
  
  
  o.bounds.forEach(b => {
    const v = mk(root, 'line', {x1: xOf(b), x2: xOf(b), y1: o.top, y2: o.bottom, stroke: '#8ba6cf', 'stroke-width': 1.4, 'stroke-dasharray': '6 4'});
    
    
  });
  const box = mk(root, 'rect', {x: o.left, y: o.top, width: o.right - o.left, height: o.bottom - o.top, fill: 'none', stroke: '#888', 'stroke-width': 2});
  
  
  metaTicks.forEach(v => {
    const t = mk(root, 'text', {x: o.left - 7, y: yOf(v) + 4, 'font-size': 20, 'text-anchor': 'end', textLength: 24, lengthAdjust: 'spacingAndGlyphs', fill: '#444'}, v.toFixed(1));
    
    
  });
  const regionLabels = ["5'UTR", 'CDS', "3'UTR"];
  regionLabels.forEach((lab, i) => {
    const t = mk(root, 'text', {x: o.labelX[i], y: o.labelY, 'font-size': 15, 'text-anchor': 'middle', textLength: o.labelW[i], lengthAdjust: 'spacingAndGlyphs', fill: '#111'}, lab);
    
    
  });
  const xt = mk(root, 'text', {x: o.xTitleX, y: o.xTitleY, 'font-size': 22, 'text-anchor': 'middle', textLength: o.xTitleW, lengthAdjust: 'spacingAndGlyphs', fill: '#111'}, 'Metagene Coordinate');
  
  
  const yt = mk(root, 'text', {transform: 'translate(' + o.yTitleX + ' ' + o.yTitleY + ') rotate(-90)', 'font-size': 24, 'text-anchor': 'middle', textLength: 73, lengthAdjust: 'spacingAndGlyphs', fill: '#111'}, 'Density');
  
  
}
drawMeta({id:'metaNC',xs:metaNCx,ys:metaNCy,bounds:geneBoundsNC,left:157,right:639.5,top:1798,bottom:2222,y0:2167,perUnit:242.7,trackY:2178,labelX:[177,299.5,526.5],labelY:2209,labelW:[41,31,41],xTitleX:408,xTitleY:2239,xTitleW:211,yTitleX:137,yTitleY:1993});
drawMeta({id:'metaTB',xs:metaTBx,ys:metaTBy,bounds:geneBoundsTB,left:707,right:1197,top:1794,bottom:2223,y0:2167,perUnit:241.3,trackY:2180,labelX:[726,855,1082],labelY:2209,labelW:[35,28,36],xTitleX:969.5,xTitleY:2240,xTitleW:215,yTitleX:687,yTitleY:1980});

/* ---------- Panel D ---------- */
(function(){
  const root = document.getElementById('kegg');
  const xOf = v => 1803.5 + (v - 0.09) * 4840;
  const yOf = i => 962.5 + i * 38.85;
  const dOf = c => 6 + 18 * Math.sqrt((c - 34) / 192);
  const lerp = (a, b, t) => a.map((v, i) => Math.round(v + (b[i] - v) * t));
  const colorOf = p => {
    const mid = 3.5e-5;
    const c = p < mid ? lerp([204,20,24],[242,240,242],p/mid) : lerp([242,240,242],[0,0,128],Math.min(1,(p-mid)/(7e-5-mid)));
    return 'rgb(' + c.join(',') + ')';
  };
  pathways.forEach((name, i) => {
    const g = mk(root, 'line', {x1: 1800, x2: 2217, y1: yOf(i), y2: yOf(i), stroke: '#ddd', 'stroke-width': 1.5, 'stroke-dasharray': '2 4'});
    
    
  });
  richTicks.forEach(v => {
    const g = mk(root, 'line', {x1: xOf(v), x2: xOf(v), y1: 940, y2: 1723, stroke: '#ddd', 'stroke-width': 1.5, 'stroke-dasharray': '2 4'});
    
    
    const tk = mk(root, 'line', {x1: xOf(v), x2: xOf(v), y1: 1724, y2: 1728, stroke: '#888', 'stroke-width': 1.5});
    
    
    const t = mk(root, 'text', {x: xOf(v), y: 1741, 'font-size': 13, 'text-anchor': 'middle', class: 'dj', fill: '#444'}, v.toFixed(2));
    
    
  });
  const box = mk(root, 'rect', {x: 1800, y: 939, width: 417, height: 784.5, fill: 'none', stroke: '#999', 'stroke-width': 2});
  
  
  pathways.forEach((name, i) => {
    const t = mk(root, 'text', {x: 1790, y: 963.5 + i * 39.5, 'font-size': 27, 'text-anchor': 'end', class: 'serif', fill: '#111'}, name);
    
    
    const tk = mk(root, 'line', {x1: 1796, x2: 1800, y1: yOf(i), y2: yOf(i), stroke: '#666', 'stroke-width': 1.5});
    
    
    const c = mk(root, 'circle', {cx: xOf(richFactor[i]), cy: yOf(i), r: dOf(counts[i]) / 2, fill: colorOf(pvalues[i])});
    
    
  });
  const title = mk(root, 'text', {x: 2010, y: 927, 'font-size': 20, 'text-anchor': 'middle', class: 'dj', textLength: 328, lengthAdjust: 'spacingAndGlyphs', fill: '#222'}, 'KEGG Pathway Enrichment');
  
  
  const xt = mk(root, 'text', {x: 2010, y: 1758, 'font-size': 17, 'text-anchor': 'middle', class: 'dj', fill: '#222'}, 'rich_factor');
  
  
  const yt = mk(root, 'text', {transform: 'translate(1299 1311) rotate(-90)', 'font-size': 34, 'text-anchor': 'middle', class: 'serif', fill: '#111'}, 'Description');
  
  
  const pt = mk(root, 'text', {x: 2248, y: 1123, 'font-size': 17, class: 'dj', fill: '#222'}, 'pvalue');
  
  
  const pb = mk(root, 'rect', {x: 2247, y: 1134, width: 29, height: 131, fill: 'url(#pBar)'});
  
  
  const pY = p => 1265 - p * 37.6 / 2e-5;
  pTicks.forEach((p, i) => {
    const t = mk(root, 'text', {x: 2285, y: pY(p) + 5, 'font-size': 14, class: 'dj', fill: '#333'}, pTickLabels[i]);
    
    
  });
  const ct = mk(root, 'text', {x: 2248, y: 1310, 'font-size': 17, class: 'dj', fill: '#222'}, 'Count');
  
  
  const bg = mk(root, 'rect', {x: 2246, y: 1320, width: 29, height: 234, fill: '#f2f2f2'});
  
  
  countKeys.forEach((c, i) => {
    const y = 1332 + i * 26;
    const k = mk(root, 'circle', {cx: 2260, cy: y, r: dOf(c) / 2, fill: '#000'});
    
    
    const t = mk(root, 'text', {x: 2284, y: y + 5, 'font-size': 14, class: 'dj', fill: '#333'}, String(c));
    
    
  });
})();

/* ---------- Panel E ---------- */
(function(){
  const root = document.getElementById('bars');
  const y0 = 2298, per = 15.15;
  const yOf = v => y0 - v * per;
  const centers = {Ctrl: 1721.5, TB: 1933};
  const fills = {Ctrl: '#E64B35', TB: '#4DBBD5'};
  const halfW = 75;
  barGroups.forEach((g, i) => {
    const cx = centers[g];
    const err = mk(root, 'path', {d: 'M' + cx + ' ' + yOf(barValues[i]) + 'V' + yOf(barValues[i] + barErrors[i]) + 'M' + (cx - 11) + ' ' + yOf(barValues[i] + barErrors[i]) + 'H' + (cx + 11), fill: 'none', stroke: '#111', 'stroke-width': 2});
    
    
    const b = mk(root, 'rect', {x: cx - halfW, y: yOf(barValues[i]), width: 2 * halfW, height: y0 - yOf(barValues[i]), fill: fills[g], stroke: '#111', 'stroke-width': 2});
    
    
    const tk = mk(root, 'line', {x1: cx, x2: cx, y1: 2317.5, y2: 2323, stroke: '#222', 'stroke-width': 2});
    
    
    const t = mk(root, 'text', {x: cx, y: 2340, 'font-size': 20, 'text-anchor': 'middle', fill: '#222'}, g);
    
    
  });
  const axes = mk(root, 'path', {d: 'M1595 1909V2317.5H2062', fill: 'none', stroke: '#222', 'stroke-width': 2.4});
  
  
  barTicks.forEach(v => {
    const tk = mk(root, 'line', {x1: 1589, x2: 1595, y1: yOf(v), y2: yOf(v), stroke: '#222', 'stroke-width': 2});
    
    
    const t = mk(root, 'text', {x: 1587, y: yOf(v) + 7, 'font-size': 21, 'text-anchor': 'end', fill: '#222'}, String(v));
    
    
  });
  const yt = mk(root, 'text', {transform: 'translate(1557 2113) rotate(-90)', 'font-size': 25, 'text-anchor': 'middle', fill: '#222'}, 'value');
  
  
  const lt = mk(root, 'text', {x: 1736, y: 1875, 'font-size': 18, fill: '#222'}, 'group');
  
  
  const swatchX = [1790, 1862], labelX = [1825, 1898];
  barGroups.forEach((g, i) => {
    const s = mk(root, 'rect', {x: swatchX[i], y: 1856, width: 24, height: 24, fill: fills[g], stroke: '#111', 'stroke-width': 1.6});
    
    
    const t = mk(root, 'text', {x: labelX[i], y: 1875, 'font-size': 18, fill: '#222'}, g);
    
    
  });
})();
</script>
</body>
</html>
